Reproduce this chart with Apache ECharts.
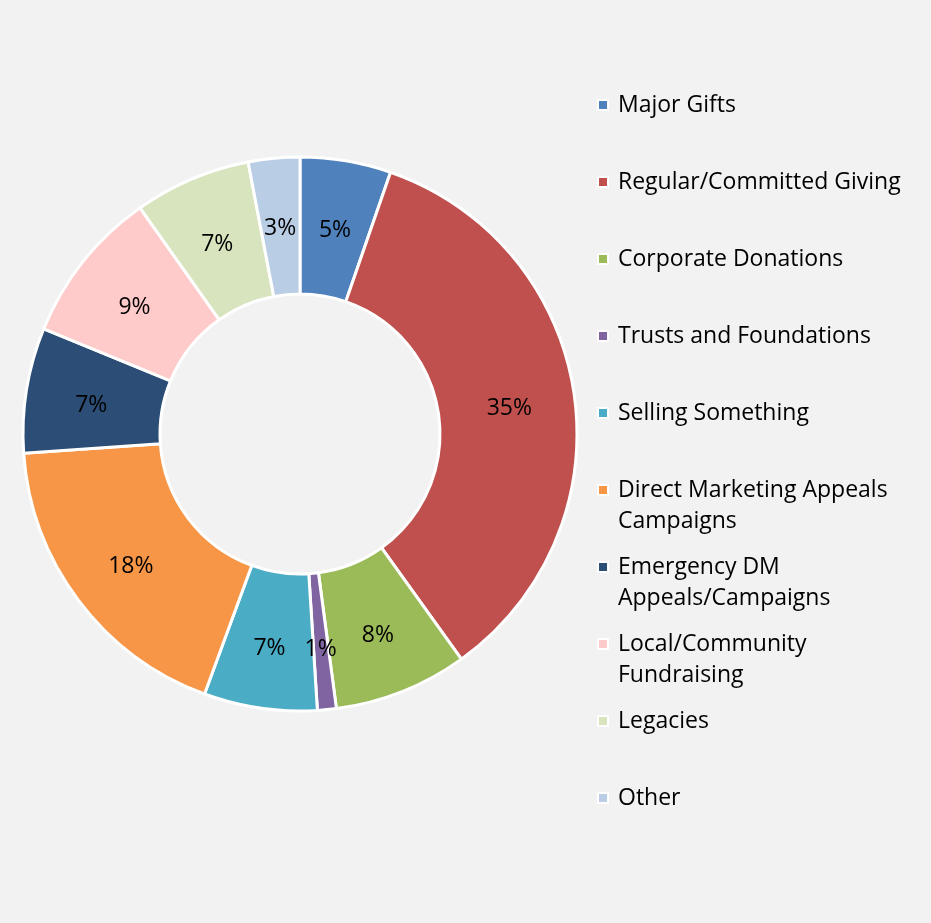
<!DOCTYPE html>
<html>
<head>
<meta charset="utf-8">
<script src="https://cdn.jsdelivr.net/npm/echarts@6/dist/echarts.min.js"></script>
<style>
  html, body { margin: 0; padding: 0; background: #f2f2f2; }
  #chart { width: 931px; height: 923px; }
</style>
</head>
<body>
<div id="chart"></div>
<script>
// data
const categories = [
  'Major Gifts',
  'Regular/Committed Giving',
  'Corporate Donations',
  'Trusts and Foundations',
  'Selling Something',
  'Direct Marketing Appeals Campaigns',
  'Emergency DM Appeals/Campaigns',
  'Local/Community Fundraising',
  'Legacies',
  'Other'
]
const shares = [5.3, 34.8, 7.8, 1.1, 6.6, 18.3, 7.3, 9.0, 6.8, 3.0]
// how the legend wraps the longer names
const legendLines = [
  ['Major Gifts'],
  ['Regular/Committed Giving'],
  ['Corporate Donations'],
  ['Trusts and Foundations'],
  ['Selling Something'],
  ['Direct Marketing Appeals', 'Campaigns'],
  ['Emergency DM', 'Appeals/Campaigns'],
  ['Local/Community', 'Fundraising'],
  ['Legacies'],
  ['Other']
]
const colors = ['#4f81bd', '#c0504d', '#9bbb59', '#8064a2', '#4bacc6', '#f79646', '#2c4d75', '#ffcaca', '#d7e4bd', '#b9cde5']

const font = '"Open Sans", "Noto Sans", sans-serif'
const chart = echarts.init(document.getElementById('chart'))

// one legend per entry so the marker sits on the first line like excel does
const lineH = 31
const legends = categories.map((name, i) => {
  const lines = legendLines[i]
  // pad with blank lines so the marker is centred on the first line
  const padded = lines.length > 1 ? ['', lines[0], lines[1]] : ['', lines[0], '']
  return {
    data: [name],
    left: 597,
    top: 105 + i * 77 - lineH * 1.5,
    orient: 'vertical',
    padding: 0,
    icon: 'rect',
    itemWidth: 10,
    itemHeight: 10,
    itemStyle: { borderColor: '#ffffff', borderWidth: 2 },
    selectedMode: false,
    formatter: () => padded.join('\n'),
    textStyle: {
      fontFamily: font,
      fontSize: 23,
      color: '#000000',
      lineHeight: lineH,
      padding: [0, 0, 0, 5]
    }
  }
})

const option = {
  backgroundColor: '#f2f2f2',
  color: colors,
  legend: legends,
  series: [{
    type: 'pie',
    center: [300, 434],
    radius: [140, 277],
    startAngle: 90,
    clockwise: true,
    animation: false,
    avoidLabelOverlap: false,
    itemStyle: {
      borderColor: '#ffffff',
      borderWidth: 3
    },
    label: {
      show: true,
      position: 'inside',
      fontFamily: font,
      fontSize: 23,
      color: '#000000',
      offset: [0, 5],
      formatter: (p) => Math.round(p.percent) + '%'
    },
    labelLine: { show: false },
    emphasis: { disabled: true },
    data: categories.map((name, i) => ({ name: name, value: shares[i] }))
  }]
}
chart.setOption(option)
</script>
</body>
</html>
